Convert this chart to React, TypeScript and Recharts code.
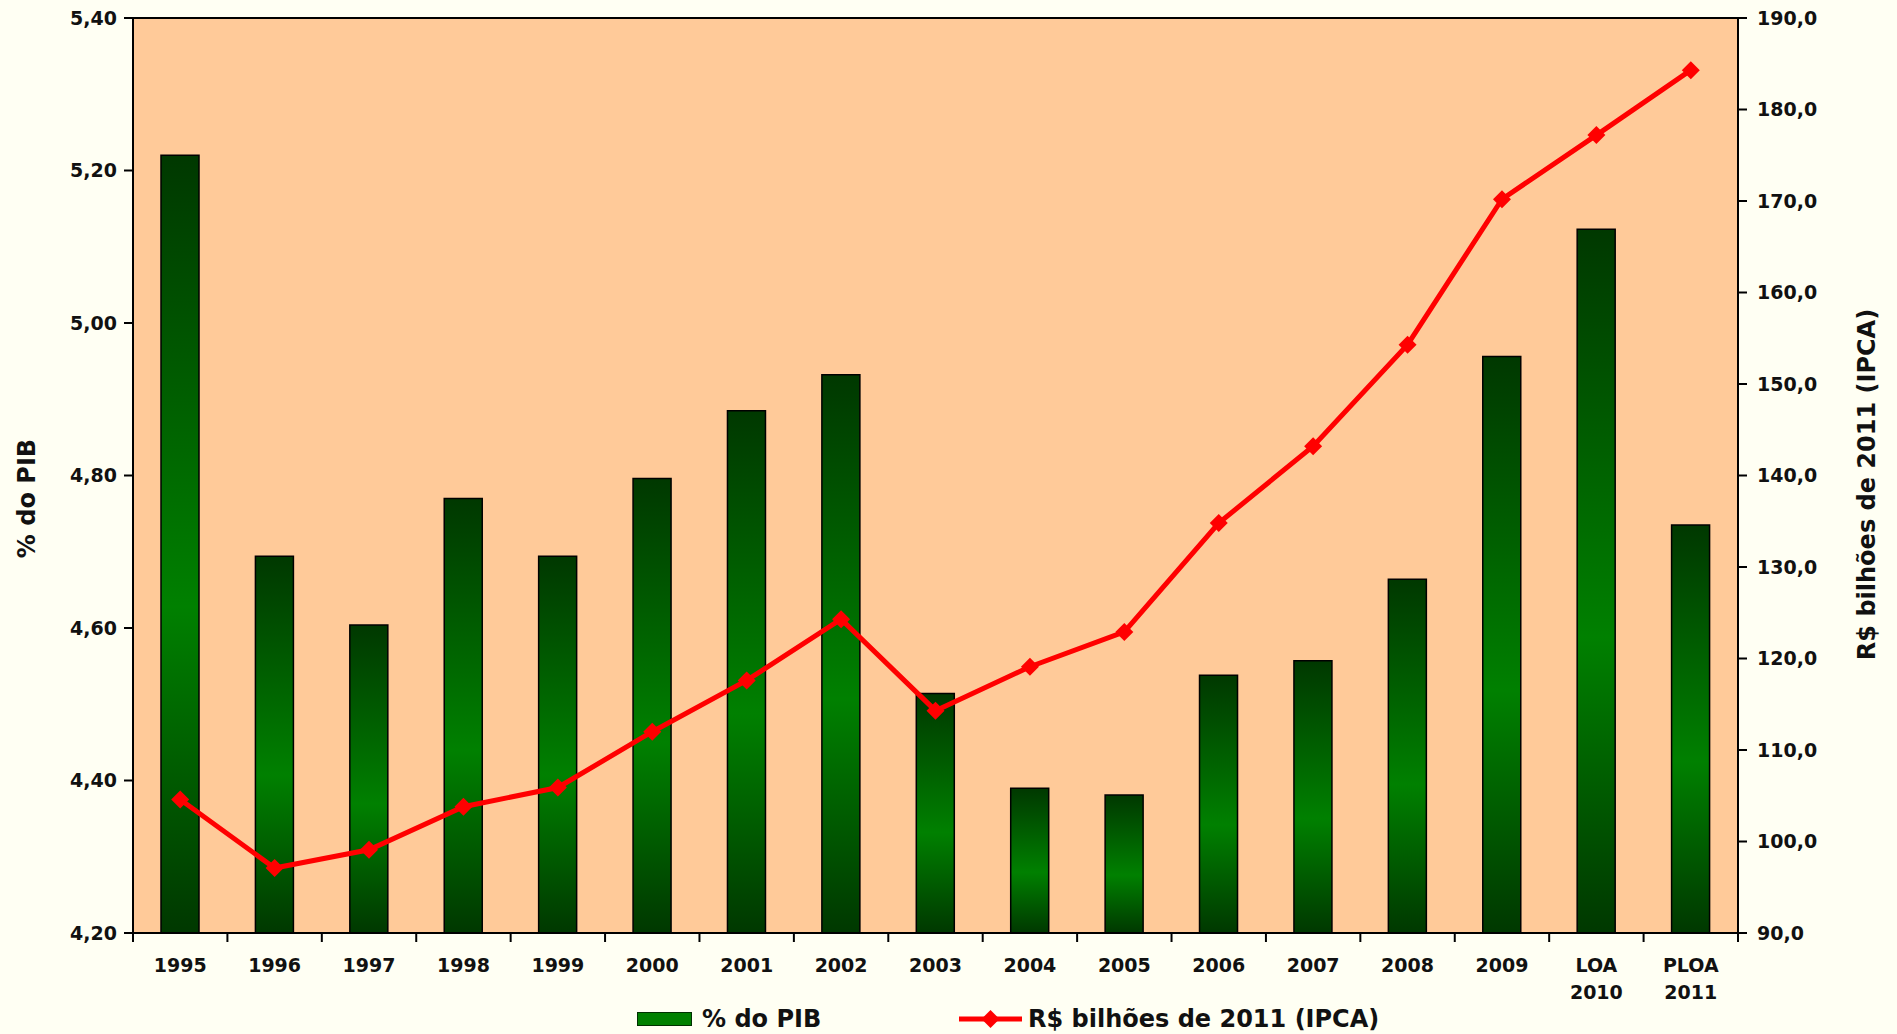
import React from "react";
import {
  Bar,
  ComposedChart,
  CartesianGrid,
  Legend,
  Line,
  ReferenceLine,
  XAxis,
  YAxis
} from "recharts";

const categories = [
  "1995", "1996", "1997", "1998", "1999", "2000", "2001", "2002", "2003",
  "2004", "2005", "2006", "2007", "2008", "2009", "LOA 2010", "PLOA 2011"
];
const pctPib = [
  5.22, 4.694, 4.604, 4.77, 4.694, 4.796, 4.885, 4.932, 4.514,
  4.39, 4.381, 4.538, 4.557, 4.664, 4.956, 5.123, 4.735
];
const bilhoes = [
  104.6, 97.1, 99.1, 103.8, 105.9, 112.0, 117.6, 124.3, 114.3,
  119.1, 122.9, 134.8, 143.2, 154.3, 170.2, 177.2, 184.3
];
const leftTicks = [4.2, 4.4, 4.6, 4.8, 5.0, 5.2, 5.4];
const rightTicks = [90, 100, 110, 120, 130, 140, 150, 160, 170, 180, 190];

const data = categories.map((c, i) => ({ name: c, pib: pctPib[i], rs: bilhoes[i] }));

const W = 1897;
const H = 1034;
const LEFT_W = 133;
const RIGHT_W = 159;
const FONT = "'DejaVu Sans', Verdana, sans-serif";
const step = (W - LEFT_W - RIGHT_W) / categories.length;

const fmtLeft = (v: number) => v.toFixed(2).replace(".", ",");
const fmtRight = (v: number) => v.toFixed(1).replace(".", ",");

function XTick(props: any) {
  const { x, y, payload, index } = props;
  const lines = String(payload.value).split(" ");
  const last = index === categories.length - 1;
  return (
    <g>
      <line x1={x - step / 2} x2={x - step / 2} y1={y} y2={y + 9} stroke="#000" strokeWidth={2} />
      {last && (
        <line x1={x + step / 2} x2={x + step / 2} y1={y} y2={y + 9} stroke="#000" strokeWidth={2} />
      )}
      {lines.map((l, i) => (
        <text
          key={i}
          x={x}
          y={y + 39 + i * 27}
          textAnchor="middle"
          fontFamily={FONT}
          fontWeight="bold"
          fontSize={19}
          fill="#111"
        >
          {l}
        </text>
      ))}
    </g>
  );
}

function Diamond(props: any) {
  const { cx, cy } = props;
  if (cx == null || cy == null) return null;
  const r = 9;
  return (
    <polygon
      points={`${cx},${cy - r} ${cx + r},${cy} ${cx},${cy + r} ${cx - r},${cy}`}
      fill="#FF0000"
    />
  );
}

function LegendBox() {
  const txt = { fontFamily: FONT, fontWeight: "bold" as const, fontSize: 24, color: "#111", whiteSpace: "nowrap" as const };
  return (
    <div style={{ position: "relative", height: 31 }}>
      <div style={{ position: "absolute", left: 637, top: 0, height: 31, display: "flex", alignItems: "center" }}>
        <div style={{ width: 53, height: 12, background: "#008000", border: "1.5px solid #003000" }} />
        <span style={{ ...txt, marginLeft: 10 }}>% do PIB</span>
      </div>
      <div style={{ position: "absolute", left: 959, top: 0, height: 31, display: "flex", alignItems: "center" }}>
        <svg width={63} height={22}>
          <line x1={0} x2={63} y1={11} y2={11} stroke="#FF0000" strokeWidth={5} />
          <polygon points="31.5,2 40.5,11 31.5,20 22.5,11" fill="#FF0000" />
        </svg>
        <span style={{ ...txt, marginLeft: 6 }}>R$ bilhões de 2011 (IPCA)</span>
      </div>
    </div>
  );
}

export default function App() {
  return (
    <div style={{ width: W, height: H, background: "#FFFFF3" }}>
      <style>{`body{margin:0;background:#FFFFF3;overflow:hidden}`}</style>
      <ComposedChart
        width={W}
        height={H}
        data={data}
        margin={{ top: 18, right: 0, bottom: 0, left: 0 }}
        barCategoryGap={0}
      >
        <defs>
          <linearGradient id="barFill" x1="0" x2="0" y1="0" y2="1">
            <stop offset="0%" stopColor="#003800" />
            <stop offset="58%" stopColor="#008000" />
            <stop offset="100%" stopColor="#003800" />
          </linearGradient>
        </defs>
        <CartesianGrid fill="#FFCA99" horizontal={false} vertical={false} />
        <XAxis
          dataKey="name"
          height={70}
          tickSize={0}
          tickMargin={0}
          tickLine={false}
          axisLine={{ stroke: "#000", strokeWidth: 2 }}
          tick={<XTick />}
          interval={0}
        />
        <YAxis
          yAxisId="left"
          width={LEFT_W}
          domain={[4.2, 5.4]}
          ticks={leftTicks}
          allowDataOverflow
          tickFormatter={fmtLeft}
          tickSize={9}
          tickMargin={7}
          tickLine={{ stroke: "#000", strokeWidth: 2 }}
          axisLine={{ stroke: "#000", strokeWidth: 2 }}
          tick={{ fontFamily: FONT, fontWeight: "bold", fontSize: 19, fill: "#111" }}
          label={{
            content: (p: any) => {
              const vb = p.viewBox;
              return (
                <text
                  transform={`translate(27, ${vb.y + vb.height / 2 + 23}) rotate(-90)`}
                  textAnchor="middle"
                  dominantBaseline="central"
                  fontFamily={FONT}
                  fontWeight="bold"
                  fontSize={24}
                  fill="#111"
                >
                  % do PIB
                </text>
              );
            }
          }}
        />
        <YAxis
          yAxisId="right"
          orientation="right"
          width={RIGHT_W}
          domain={[90, 190]}
          ticks={rightTicks}
          allowDataOverflow
          tickFormatter={fmtRight}
          tickSize={9}
          tickMargin={10}
          tickLine={{ stroke: "#000", strokeWidth: 2 }}
          axisLine={{ stroke: "#000", strokeWidth: 2 }}
          tick={{ fontFamily: FONT, fontWeight: "bold", fontSize: 19, fill: "#111", textAnchor: "start" }}
          label={{
            content: (p: any) => {
              const vb = p.viewBox;
              return (
                <text
                  transform={`translate(${W - 30}, ${vb.y + vb.height / 2 + 9}) rotate(-90)`}
                  textAnchor="middle"
                  dominantBaseline="central"
                  fontFamily={FONT}
                  fontWeight="bold"
                  fontSize={24}
                  fill="#111"
                >
                  R$ bilhões de 2011 (IPCA)
                </text>
              );
            }
          }}
        />
        <ReferenceLine yAxisId="left" y={5.4} stroke="#000" strokeWidth={2} />
        <Legend
          verticalAlign="bottom"
          wrapperStyle={{ left: 0, width: W, height: 31, bottom: 0 }}
          content={() => <LegendBox />}
        />
        <Bar
          yAxisId="left"
          dataKey="pib"
          name="% do PIB"
          barSize={38}
          fill="url(#barFill)"
          stroke="#000"
          strokeWidth={1.5}
          isAnimationActive={false}
        />
        <Line
          yAxisId="right"
          dataKey="rs"
          name="R$ bilhões de 2011 (IPCA)"
          type="linear"
          stroke="#FF0000"
          strokeWidth={5}
          dot={<Diamond />}
          activeDot={false}
          isAnimationActive={false}
        />
      </ComposedChart>
    </div>
  );
}
